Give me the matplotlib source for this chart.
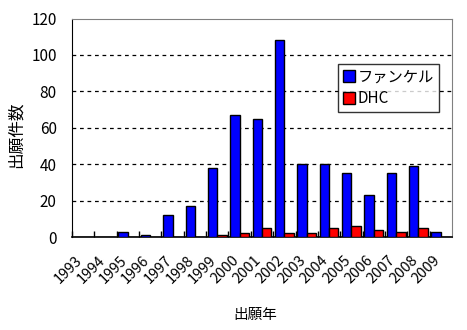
import numpy as np
import matplotlib
matplotlib.use("Agg")
import matplotlib.pyplot as plt
import matplotlib.transforms as mtransforms

plt.rcParams['font.family'] = ['Noto Sans CJK JP', 'DejaVu Sans']

years = ['1993', '1994', '1995', '1996', '1997', '1998', '1999', '2000', '2001',
         '2002', '2003', '2004', '2005', '2006', '2007', '2008', '2009']
fancl = [0, 0, 3, 1, 12, 17, 38, 67, 65, 108, 40, 40, 35, 23, 35, 39, 3]
dhc = [0, 0, 0, 0, 0, 0, 1, 2, 5, 2, 2, 5, 6, 4, 3, 5, 0]
yticks = [0, 20, 40, 60, 80, 100, 120]

fig = plt.figure(figsize=(4.67, 3.30), dpi=100)
ax = fig.add_axes([72/467, 1-237/330, 380/467, 218.5/330])

x = np.arange(len(years))
w = 0.42
ax.bar(x - w/2, fancl, w, color='#0000ff', edgecolor='black', linewidth=1, label='ファンケル', zorder=3)
ax.bar(x + w/2, dhc, w, color='#ff0000', edgecolor='black', linewidth=1, label='DHC', zorder=3)

ax.set_xlim(-0.5, len(years) - 0.5)
ax.set_ylim(0, 120)
ax.set_yticks(yticks)
ax.set_yticklabels([str(v) for v in yticks], fontsize=11)
ax.tick_params(axis='y', length=0, pad=11)
for v in yticks[1:-1]:
    ax.axhline(v, color='black', linestyle=(0, (3, 3)), linewidth=0.9, zorder=1)

# category boundary ticks pointing inward
ax.set_xticks(np.arange(-0.5, len(years) - 0.5, 1), minor=False)
ax.set_xticklabels([])
ax.tick_params(axis='x', which='major', direction='in', length=4, width=1)
ax.set_xticks(x, minor=True)
ax.set_xticklabels(years, minor=True, rotation=45, ha='right', va='top',
                   rotation_mode='anchor', fontsize=10.5)
ax.tick_params(axis='x', which='minor', length=0, pad=11.5)
shift = mtransforms.ScaledTranslation(-8/100, 0, fig.dpi_scale_trans)
for lab in ax.get_xticklabels(minor=True):
    lab.set_transform(lab.get_transform() + shift)

ax.spines['left'].set_color('black')
ax.spines['bottom'].set_color('black')
ax.spines['bottom'].set_linewidth(1.2)
ax.spines['top'].set_color('#808080')
ax.spines['right'].set_color('#808080')

ax.set_ylabel('出願件数', fontsize=12, va='center')
ax.yaxis.set_label_coords((16 - 72)/380, 0.47)
ax.set_xlabel('出願年', fontsize=10.5, va='center')
ax.xaxis.set_label_coords((255 - 72)/380, (237 - 315)/218.5)

leg = ax.legend(loc='upper left', bbox_to_anchor=((338-72)/380, (237-64)/218.5),
                borderaxespad=0, fontsize=11, frameon=True, fancybox=False, borderpad=0.3,
                handlelength=0.8, handleheight=0.8, handletextpad=0.2, labelspacing=0.3)
leg.get_frame().set_edgecolor('black')
leg.get_frame().set_linewidth(1)

fig.savefig('out.png', dpi=100)
